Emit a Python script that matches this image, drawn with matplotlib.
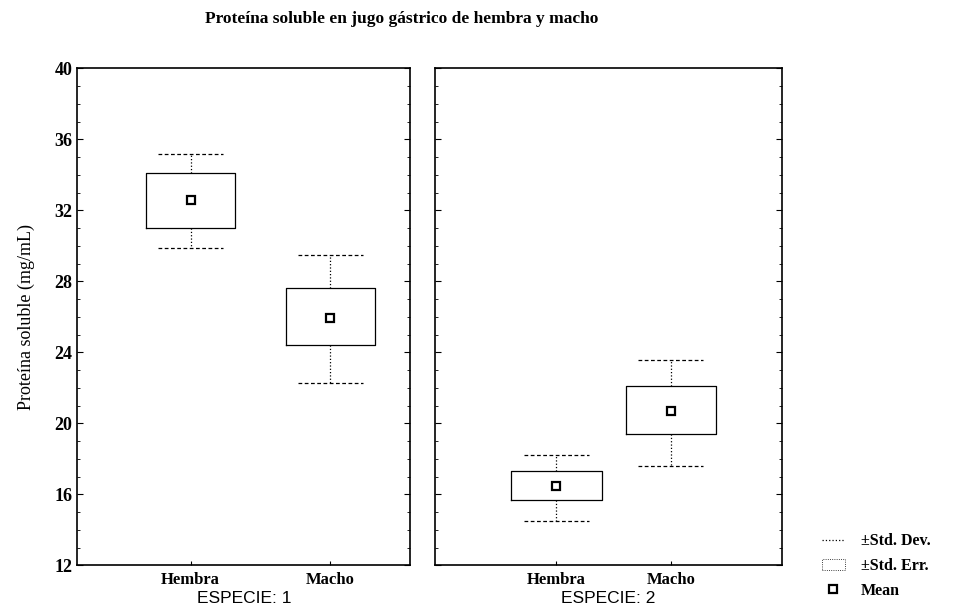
import matplotlib
matplotlib.use('Agg')
import matplotlib.pyplot as plt
from matplotlib.lines import Line2D
from matplotlib.patches import Rectangle
from matplotlib.ticker import MultipleLocator

# datos
grupos = ['Hembra', 'Macho']
especies = ['ESPECIE: 1', 'ESPECIE: 2']

media_e1 = [32.6, 25.95]
ee_inf_e1 = [31.0, 24.4]
ee_sup_e1 = [34.1, 27.6]
de_inf_e1 = [29.9, 22.3]
de_sup_e1 = [35.2, 29.5]

media_e2 = [16.5, 20.7]
ee_inf_e2 = [15.7, 19.4]
ee_sup_e2 = [17.3, 22.1]
de_inf_e2 = [14.5, 17.6]
de_sup_e2 = [18.2, 23.6]

serif = 'Liberation Serif'
sans = 'Liberation Sans'

fig = plt.figure(figsize=(9.56, 6.10), dpi=100)
ax1 = fig.add_axes([0.081, 0.073, 0.348, 0.815])
ax2 = fig.add_axes([0.455, 0.073, 0.363, 0.815])

paneles = [
    (ax1, media_e1, ee_inf_e1, ee_sup_e1, de_inf_e1, de_sup_e1, (0.19, 2.57), 0.64),
    (ax2, media_e2, ee_inf_e2, ee_sup_e2, de_inf_e2, de_sup_e2, (-0.06, 2.97), 0.79),
]

for i, (ax, med, eei, ees, dei, des, xl, ancho) in enumerate(paneles):
    stats = []
    for j in range(len(grupos)):
        stats.append({'med': med[j], 'mean': med[j], 'q1': eei[j], 'q3': ees[j],
                      'whislo': dei[j], 'whishi': des[j], 'label': grupos[j]})
    ax.bxp(stats, positions=[1, 2], widths=ancho, showmeans=True, showfliers=False,
           boxprops=dict(color='black', linewidth=0.9),
           whiskerprops=dict(color='black', linewidth=0.9, linestyle=':'),
           capprops=dict(color='black', linewidth=0.9, linestyle=(0, (3, 2))),
           medianprops=dict(linewidth=0),
           meanprops=dict(marker='s', markerfacecolor='white', markeredgecolor='black',
                          markersize=5.5, markeredgewidth=1.6),
           capwidths=ancho * 0.72)
    ax.set_xlim(*xl)
    ax.set_ylim(12, 40)
    ax.yaxis.set_major_locator(MultipleLocator(4))
    ax.yaxis.set_minor_locator(MultipleLocator(1))
    ax.tick_params(axis='y', which='both', direction='in', left=True, right=True)
    ax.tick_params(axis='y', which='major', length=4)
    ax.tick_params(axis='y', which='minor', length=2.5)
    ax.tick_params(axis='x', direction='in', length=3, pad=5)
    ax.set_xticks([1, 2])
    ax.set_xticklabels(grupos, fontfamily=serif, fontweight='bold', fontsize=12)
    ax.set_xlabel(especies[i], fontfamily=sans, fontsize=12.5, labelpad=2)
    for s in ax.spines.values():
        s.set_linewidth(1.2)
    if i == 0:
        for lab in ax.get_yticklabels():
            lab.set_fontfamily(serif)
            lab.set_fontweight('bold')
            lab.set_fontsize(13)
        ax.set_ylabel('Proteína soluble (mg/mL)', fontfamily=serif, fontsize=13, labelpad=14)
    else:
        ax.set_yticklabels([])

fig.suptitle('Proteína soluble en jugo gástrico de hembra y macho', x=0.42, y=0.982,
             fontfamily=serif, fontweight='bold', fontsize=12.5)

# leyenda
h_de = Line2D([0], [0], color='black', linestyle=':', linewidth=0.9)
h_ee = Rectangle((0, 0), 1, 1, facecolor='white', edgecolor='black', linewidth=0.6, linestyle=':')
h_media = Line2D([0], [0], marker='s', linestyle='none', markerfacecolor='white',
                 markeredgecolor='black', markersize=5.5, markeredgewidth=1.6)
leg = fig.legend([h_de, h_ee, h_media], ['±Std. Dev.', '±Std. Err.', 'Mean'],
                 loc='lower left', bbox_to_anchor=(0.845, -0.005), frameon=False,
                 prop={'family': serif, 'weight': 'bold', 'size': 11.5},
                 handlelength=1.4, handletextpad=1.0, labelspacing=0.55)

fig.savefig('out.png', dpi=100, facecolor='white')
